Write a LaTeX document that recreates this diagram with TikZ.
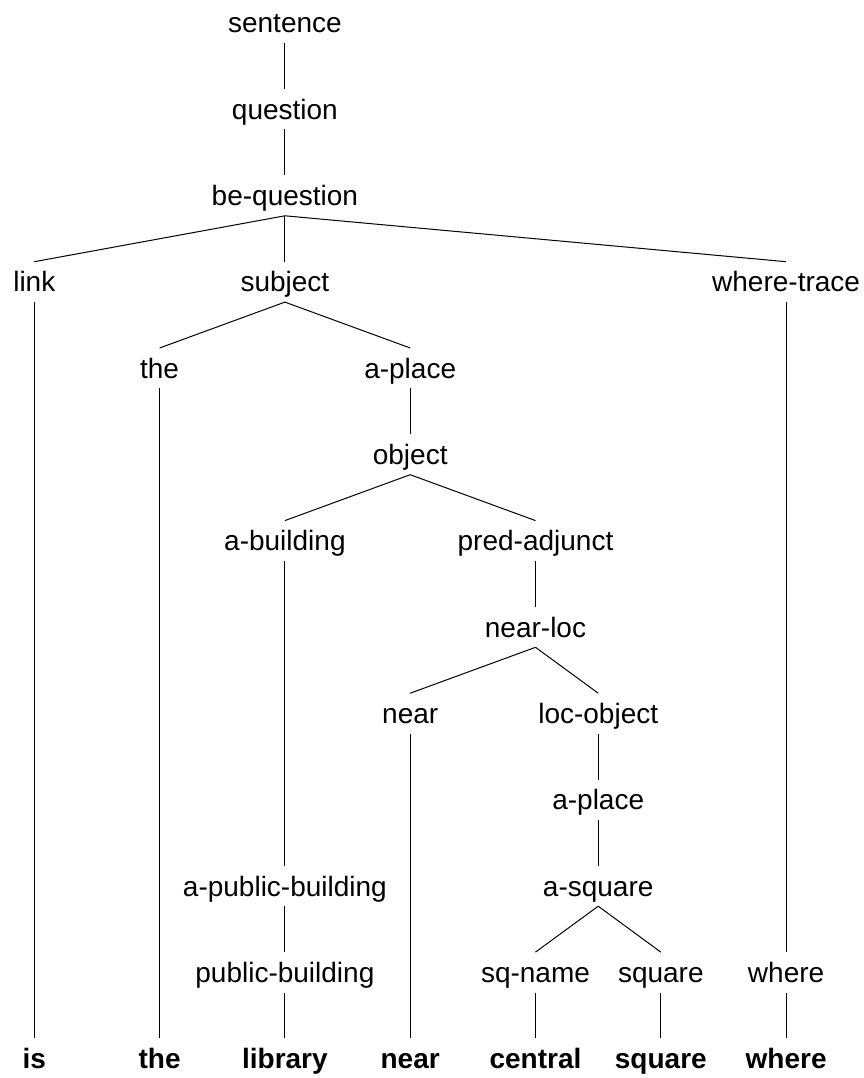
\documentclass[tikz,border=0pt]{standalone}
\usepackage{fontspec}
\setmainfont{Liberation Sans}
\begin{document}
\begin{tikzpicture}[x=1pt,y=-1pt,
  lab/.style={anchor=base, inner xsep=0pt, inner ysep=10pt, text height=20pt, text depth=0pt, font=\fontsize{28}{30}\selectfont},
  leaf/.style={lab, font=\fontsize{28}{30}\selectfont\bfseries},
  edge/.style={line width=1pt, black}]
\useasboundingbox (0,0) rectangle (863,1078);
% rows
\node[lab] (sentence) at (284.9,33) {sentence};
\node[lab] (question) at (284.9,119.3) {question};
\node[lab] (bequestion) at (284.9,205.6) {be-question};
\node[lab] (link) at (34.3,291.9) {link};
\node[lab] (subject) at (284.9,291.9) {subject};
\node[lab] (wheretrace) at (786.1,291.9) {where-trace};
\node[lab] (theN) at (159.6,378.2) {the};
\node[lab] (aplace) at (410.2,378.2) {a-place};
\node[lab] (object) at (410.2,464.5) {object};
\node[lab] (abuilding) at (284.9,550.8) {a-building};
\node[lab] (predadjunct) at (535.5,550.8) {pred-adjunct};
\node[lab] (nearloc) at (535.5,637.1) {near-loc};
\node[lab] (nearN) at (410.2,723.4) {near};
\node[lab] (locobject) at (598.2,723.4) {loc-object};
\node[lab] (aplaceb) at (598.2,809.7) {a-place};
\node[lab] (apublicbuilding) at (284.9,896) {a-public-building};
\node[lab] (asquare) at (598.2,896) {a-square};
\node[lab] (publicbuilding) at (284.9,982.3) {public-building};
\node[lab] (sqname) at (535.5,982.3) {sq-name};
\node[lab] (squareN) at (660.8,982.3) {square};
\node[lab] (whereN) at (786.1,982.3) {where};
% leaves
\node[leaf] (is) at (34.3,1068.6) {is};
\node[leaf] (theL) at (159.6,1068.6) {the};
\node[leaf] (library) at (284.9,1068.6) {library};
\node[leaf] (nearL) at (410.2,1068.6) {near};
\node[leaf] (central) at (535.5,1068.6) {central};
\node[leaf] (squareL) at (660.8,1068.6) {square};
\node[leaf] (whereL) at (786.1,1068.6) {where};
% edges
\draw[edge] (sentence.south) -- (question.north);
\draw[edge] (question.south) -- (bequestion.north);
\draw[edge] (bequestion.south) -- (link.north);
\draw[edge] (bequestion.south) -- (subject.north);
\draw[edge] (bequestion.south) -- (wheretrace.north);
\draw[edge] (link.south) -- (is.north);
\draw[edge] (subject.south) -- (theN.north);
\draw[edge] (subject.south) -- (aplace.north);
\draw[edge] (theN.south) -- (theL.north);
\draw[edge] (aplace.south) -- (object.north);
\draw[edge] (object.south) -- (abuilding.north);
\draw[edge] (object.south) -- (predadjunct.north);
\draw[edge] (abuilding.south) -- (apublicbuilding.north);
\draw[edge] (apublicbuilding.south) -- (publicbuilding.north);
\draw[edge] (publicbuilding.south) -- (library.north);
\draw[edge] (predadjunct.south) -- (nearloc.north);
\draw[edge] (nearloc.south) -- (nearN.north);
\draw[edge] (nearloc.south) -- (locobject.north);
\draw[edge] (nearN.south) -- (nearL.north);
\draw[edge] (locobject.south) -- (aplaceb.north);
\draw[edge] (aplaceb.south) -- (asquare.north);
\draw[edge] (asquare.south) -- (sqname.north);
\draw[edge] (asquare.south) -- (squareN.north);
\draw[edge] (sqname.south) -- (central.north);
\draw[edge] (squareN.south) -- (squareL.north);
\draw[edge] (wheretrace.south) -- (whereN.north);
\draw[edge] (whereN.south) -- (whereL.north);
\end{tikzpicture}
\end{document}
